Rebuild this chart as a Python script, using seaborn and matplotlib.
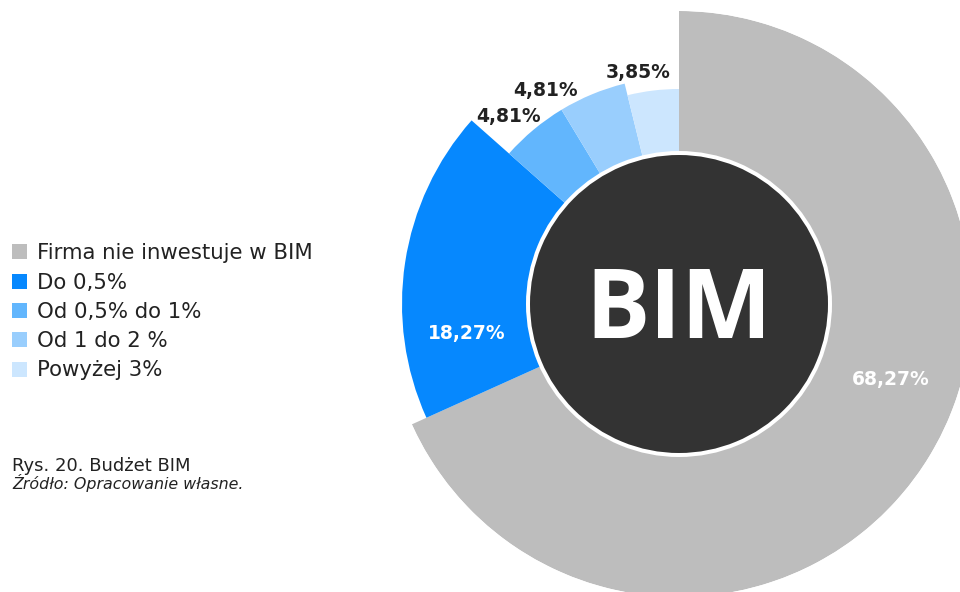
import numpy as np
import matplotlib
matplotlib.use("Agg")
import matplotlib.pyplot as plt
from matplotlib.patches import Rectangle
import seaborn as sns

# Budget categories and their shares (%)
categories = ["Firma nie inwestuje w BIM", "Do 0,5%", "Od 0,5% do 1%", "Od 1 do 2 %", "Powyżej 3%"]
shares = [68.27, 18.27, 4.81, 4.81, 3.85]

# Styling
colors = ["#BDBDBD", "#0688FE", "#62B6FD", "#99CEFD", "#CCE6FE"]
outer_r = [293, 277, 227, 227, 215]
label_pos = [(109.7, 225), (262.2, 214), (317.7, 254), (328.0, 252), (350.0, 235)]
label_colors = ["white", "white", "#222222", "#222222", "#222222"]
text_color = "#222222"

sns.set_theme(style="white")
plt.rcParams["font.family"] = ["DejaVu Sans"]

W, H = 960, 592
fig = plt.figure(figsize=(W / 100, H / 100), dpi=100)
fig.patch.set_facecolor("white")

cx, cy, R = 679, 304, 293
ax = fig.add_axes([(cx - R) / W, (H - cy - R) / H, 2 * R / W, 2 * R / H], projection="polar")
ax.set_theta_zero_location("N")
ax.set_theta_direction(-1)
ax.set_ylim(0, R)
ax.set_axis_off()

frac = np.array(shares) / np.sum(shares)
widths = frac * 2 * np.pi
starts = np.concatenate([[0], np.cumsum(widths)[:-1]])
ax.bar(starts, outer_r, width=widths, bottom=0, align="edge",
       color=sns.color_palette(colors), edgecolor="none", linewidth=0)

# Centre disc with a white ring
ax.bar(0, 153, width=2 * np.pi, bottom=0, align="edge", color="white", edgecolor="none")
ax.bar(0, 149, width=2 * np.pi, bottom=0, align="edge", color="#333333", edgecolor="none")
ax.text(np.pi, 34, "BIM", ha="center", va="baseline", color="white", family="Open Sans",
        fontsize=69, fontweight="bold")

# Value labels, text built from the same shares
for val, (deg, r), col in zip(shares, label_pos, label_colors):
    txt = f"{val:.2f}".replace(".", ",") + "%"
    ax.text(np.deg2rad(deg), r, txt, ha="center", va="center", color=col,
            fontsize=13.5, fontweight="bold")

# Legend on the left
base0, step = 259.3, 29.3
for i, (lab, col) in enumerate(zip(categories, colors)):
    base = base0 + i * step
    fig.patches.append(Rectangle((12 / W, (H - base) / H), 15 / W, 15 / H,
                                 transform=fig.transFigure, facecolor=col,
                                 edgecolor="none"))
    fig.text(37 / W, (H - base) / H, lab, ha="left", va="baseline",
             fontsize=15.3, color=text_color)

fig.text(12 / W, (H - 471) / H, "Rys. 20. Budżet BIM", ha="left", va="baseline",
         fontsize=13, color=text_color)
fig.text(12 / W, (H - 489) / H, "Źródło: Opracowanie własne.", ha="left", va="baseline",
         fontsize=11.4, style="italic", color=text_color)

fig.savefig("out.png", dpi=100, facecolor="white")
